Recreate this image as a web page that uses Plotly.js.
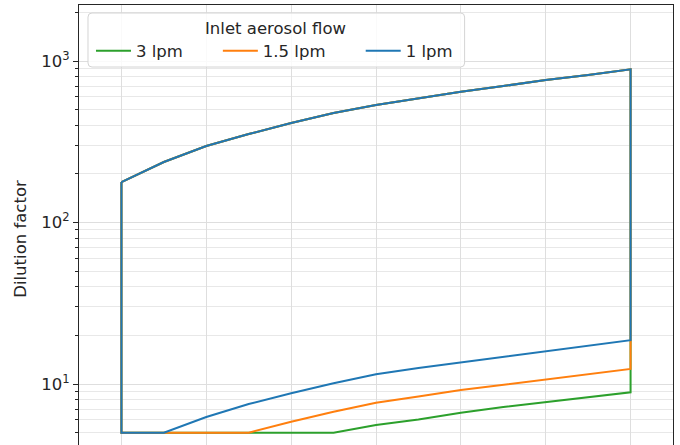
<!DOCTYPE html>
<html>
<head>
<meta charset="utf-8">
<script src="https://cdn.plot.ly/plotly-3.0.1.min.js"></script>
<style>
  html, body { margin: 0; padding: 0; overflow: hidden; background: #fff; }
  #chart { width: 680px; height: 525px; }
</style>
</head>
<body>
<div id="chart"></div>
<script>
// Position index along the (cropped, unlabeled) x axis
const xPos = [0, 0.5, 1, 1.5, 2, 2.5, 3, 3.5, 4, 4.5, 5, 5.5, 6];
// Upper bound of dilution factor (shared by all flows)
const upperDilution = [178, 237, 298, 353, 413, 476, 534, 590, 646, 700, 763, 819, 889];
// Lower bounds for each inlet aerosol flow
const lower3lpm  = [5, 5, 5, 5, 5, 5, 5.57, 6.03, 6.64, 7.21, 7.77, 8.31, 8.89];
const lower15lpm = [5, 5, 5, 5, 5.84, 6.74, 7.66, 8.37, 9.18, 9.91, 10.7, 11.5, 12.4];
const lower1lpm  = [5, 5, 6.25, 7.52, 8.76, 10.1, 11.49, 12.57, 13.6, 14.8, 16.0, 17.3, 18.7];

const legendTitle = 'Inlet aerosol flow';
const seriesNames = ['3 lpm', '1.5 lpm', '1 lpm'];
const seriesColors = ['#2ca02c', '#ff7f0e', '#1f77b4'];
const seriesLower = [lower3lpm, lower15lpm, lower1lpm];
const legendIds = ['legend', 'legend2', 'legend3'];

const yMajor = [10, 100, 1000];
const yMajorText = ['10<sup>1</sup>', '10<sup>2</sup>', '10<sup>3</sup>'];
const yMinor = [];
[1, 10, 100, 1000].forEach(d => { for (let k = 2; k <= 9; k++) yMinor.push(k * d); });

function outline(lower) {
  const xr = xPos.slice().reverse();
  const lr = lower.slice().reverse();
  return {
    x: xPos.concat(xr, [xPos[0]]),
    y: upperDilution.concat(lr, [upperDilution[0]])
  };
}

const traces = seriesNames.map((name, i) => {
  const o = outline(seriesLower[i]);
  return {
    type: 'scatter', mode: 'lines', name: name,
    x: o.x, y: o.y,
    legend: legendIds[i],
    line: { color: seriesColors[i], width: 2 },
    hoverinfo: 'skip'
  };
});

// plot area geometry (px) for placing the legend pieces
const L = 79, W = 594.6, T = 5, H = 468;
const px2x = p => (p - L) / W;
const px2y = p => (T + H - p) / H;

const fontFam = 'DejaVu Sans, sans-serif';
const fs = 16.5;

function legendAt(xpx) {
  return {
    x: px2x(xpx), y: px2y(51), xanchor: 'left', yanchor: 'middle',
    bgcolor: 'rgba(0,0,0,0)', borderwidth: 0,
    font: { size: fs, family: fontFam, color: '#262626' },
    itemwidth: 35
  };
}

// rounded legend frame
const bx0 = px2x(88), bx1 = px2x(465), by0 = px2y(67), by1 = px2y(13);
const rx = 4 / W, ry = 4 / H;
const framePath = `M ${bx0 + rx},${by1} L ${bx1 - rx},${by1} Q ${bx1},${by1} ${bx1},${by1 - ry} ` +
  `L ${bx1},${by0 + ry} Q ${bx1},${by0} ${bx1 - rx},${by0} L ${bx0 + rx},${by0} ` +
  `Q ${bx0},${by0} ${bx0},${by0 + ry} L ${bx0},${by1 - ry} Q ${bx0},${by1} ${bx0 + rx},${by1} Z`;

const layout = {
  width: 680, height: 525,
  margin: { l: 79, r: 7, t: 5, b: 52 },
  paper_bgcolor: '#fff', plot_bgcolor: '#fff',
  font: { family: fontFam, size: fs, color: '#262626' },
  showlegend: true,
  legend: legendAt(91),
  legend2: legendAt(218),
  legend3: legendAt(361),
  shapes: [{
    type: 'path', xref: 'paper', yref: 'paper', path: framePath, layer: 'above',
    fillcolor: 'rgba(255,255,255,0.85)', line: { color: '#d4d4d4', width: 1 }
  }],
  annotations: [{
    text: legendTitle, xref: 'paper', yref: 'paper',
    x: px2x(276), y: px2y(28), xanchor: 'center', yanchor: 'middle',
    showarrow: false, font: { size: fs, family: fontFam, color: '#262626' }
  }],
  xaxis: {
    range: [-0.5, 6.5], dtick: 1, tick0: 0,
    showgrid: true, gridcolor: '#dedede', gridwidth: 1,
    zeroline: false, showline: true, linecolor: '#262626', linewidth: 1, mirror: true,
    ticks: 'outside', ticklen: 5, tickcolor: '#262626',
    showticklabels: false
  },
  yaxis: {
    type: 'log', range: [0.449, 3.347],
    tickmode: 'array', tickvals: yMajor, ticktext: yMajorText,
    showgrid: true, gridcolor: '#dedede', gridwidth: 1,
    zeroline: false, showline: true, linecolor: '#262626', linewidth: 1, mirror: true,
    ticks: 'outside', ticklen: 5, tickcolor: '#262626',
    tickfont: { size: fs, family: fontFam },
    minor: { tickmode: 'array', tickvals: yMinor, ticks: 'outside', ticklen: 3, tickcolor: '#262626',
             showgrid: true, gridcolor: '#e8e8e8', gridwidth: 1 },
    title: { text: 'Dilution factor', font: { size: fs, family: fontFam }, standoff: 10 }
  }
};

Plotly.newPlot('chart', traces, layout, { displayModeBar: false, staticPlot: true });
</script>
</body>
</html>
